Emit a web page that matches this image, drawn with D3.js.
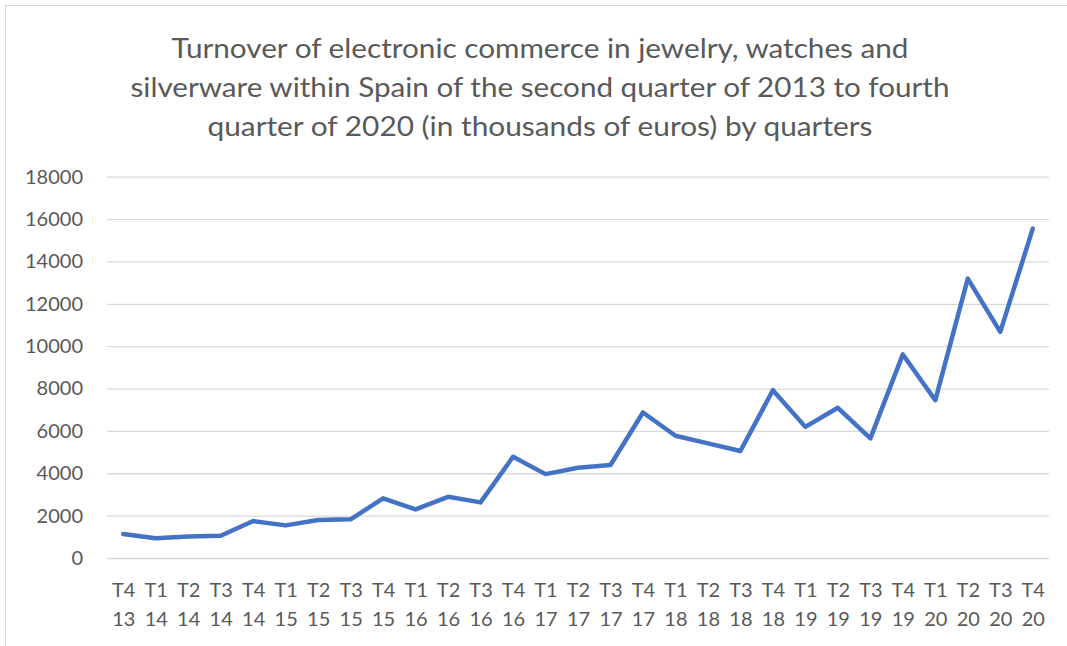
<!DOCTYPE html>
<html>
<head>
<meta charset="utf-8">
<script src="https://cdn.jsdelivr.net/npm/d3@7"></script>
<style>
  body { margin: 0; background: #fff; }
  svg { display: block; font-family: Lato, "Open Sans", sans-serif; }
</style>
</head>
<body>
<svg id="chart" width="1067" height="646"></svg>
<script>
// quarter labels: [quarter, year]
const quarters = ["T4","T1","T2","T3","T4","T1","T2","T3","T4","T1","T2","T3","T4","T1","T2",
                  "T3","T4","T1","T2","T3","T4","T1","T2","T3","T4","T1","T2","T3","T4"];
const years = ["13","14","14","14","14","15","15","15","15","16","16","16","16","17","17",
               "17","17","18","18","18","18","19","19","19","19","20","20","20","20"];
const turnover = [1130, 930, 1020, 1050, 1745, 1540, 1790, 1825, 2815, 2295, 2890, 2625, 4780,
                  3960, 4260, 4390, 6870, 5770, 5410, 5050, 7920, 6190, 7090, 5645, 9610,
                  7450, 13190, 10675, 15550];
const yTicks = [0, 2000, 4000, 6000, 8000, 10000, 12000, 14000, 16000, 18000];
const titleLines = [
  "Turnover of electronic commerce in jewelry, watches and",
  "silverware within Spain of the second quarter of 2013 to fourth",
  "quarter of 2020 (in thousands of euros) by quarters"
];
// rendered widths of the title lines in the original (Calibri is narrower than Lato)
const titleWidths = [737, 819, 665];

const svg = d3.select("#chart");
const textColor = "#595959";

const plot = { left: 107, right: 1049, top: 176.7, bottom: 558 };
const keys = quarters.map((q, i) => i);

const x = d3.scalePoint()
    .domain(keys)
    .range([plot.left, plot.right])
    .padding(0.5);

const y = d3.scaleLinear()
    .domain([0, 18000])
    .range([plot.bottom, plot.top]);

// chart border (cropped by the image edges)
svg.append("rect")
    .attr("x", 5.5).attr("y", 5.5)
    .attr("width", 1200).attr("height", 800)
    .attr("fill", "none")
    .attr("stroke", "#d9d9d9");

// title
svg.append("g")
    .selectAll("text")
    .data(titleLines)
    .join("text")
      .attr("x", 540)
      .attr("y", (d, i) => 58 + i * 39)
      .attr("text-anchor", "middle")
      .attr("font-size", 27)
      .attr("textLength", (d, i) => titleWidths[i])
      .attr("lengthAdjust", "spacingAndGlyphs")
      .attr("fill", textColor)
      .text(d => d);

// gridlines + y labels
const yAxis = svg.append("g")
    .attr("transform", "translate(" + plot.left + ",0)")
    .call(d3.axisLeft(y)
        .tickValues(yTicks)
        .tickSize(-(plot.right - plot.left))
        .tickPadding(24)
        .tickFormat(d3.format("d")));
yAxis.select(".domain").remove();
yAxis.selectAll(".tick line")
    .attr("stroke", "#d9d9d9")
    .attr("stroke-width", 1.3);
yAxis.selectAll(".tick text")
    .attr("fill", textColor)
    .attr("font-size", 20)
    .attr("font-family", "Lato, sans-serif");

// x labels, two lines each
const xAxis = svg.append("g")
    .attr("transform", "translate(0," + plot.bottom + ")")
    .call(d3.axisBottom(x).tickSize(0).tickFormat(""));
xAxis.select(".domain").remove();
xAxis.selectAll(".tick text").remove();
xAxis.selectAll(".tick").each(function(i) {
  const t = d3.select(this).append("text")
      .attr("text-anchor", "middle")
      .attr("fill", textColor)
      .attr("font-size", 20)
      .attr("font-family", "Lato, sans-serif");
  t.append("tspan").attr("x", 0).attr("y", 39).text(quarters[i]);
  t.append("tspan").attr("x", 0).attr("y", 68).text(years[i]);
});

// series line
const line = d3.line()
    .x((d, i) => x(i))
    .y(d => y(d));

svg.append("path")
    .datum(turnover)
    .attr("fill", "none")
    .attr("stroke", "#4472C4")
    .attr("stroke-width", 4.5)
    .attr("stroke-linejoin", "round")
    .attr("stroke-linecap", "round")
    .attr("d", line);
</script>
</body>
</html>
